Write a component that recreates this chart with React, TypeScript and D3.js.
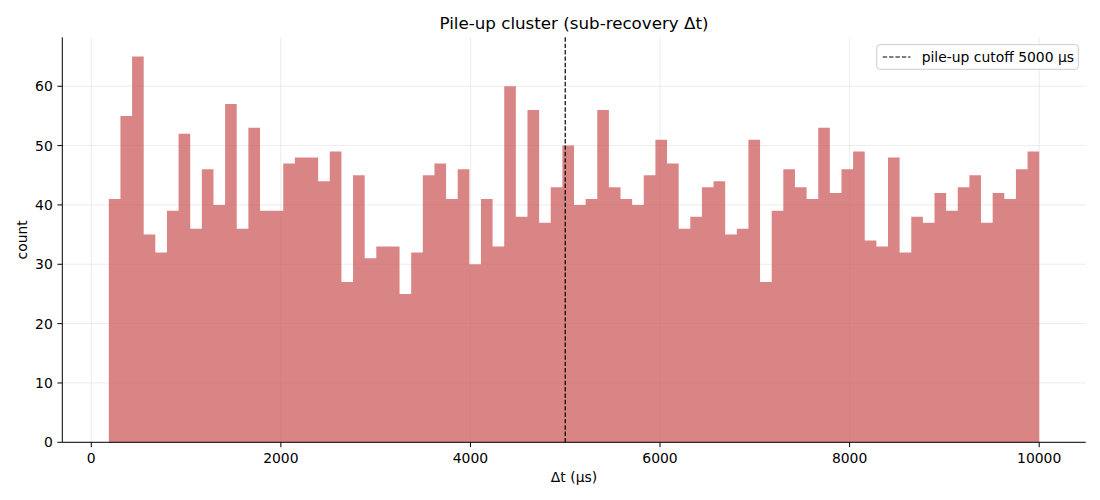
import React, { useEffect } from "react";
import * as d3 from "d3";

const binStart = 185;
const binEnd = 10000;
const counts = [
  41, 55, 65, 35, 32, 39, 52, 36, 46, 40,
  57, 36, 53, 39, 39, 47, 48, 48, 44, 49,
  27, 45, 31, 33, 33, 25, 32, 45, 47, 41,
  46, 30, 41, 33, 60, 38, 56, 37, 43, 50,
  40, 41, 56, 43, 41, 40, 45, 51, 47, 36,
  38, 43, 44, 35, 36, 51, 27, 39, 46, 43,
  41, 53, 42, 46, 49, 34, 33, 48, 32, 38,
  37, 42, 39, 43, 45, 37, 42, 41, 46, 49,
];
const xTicks = [0, 2000, 4000, 6000, 8000, 10000];
const yTicks = [0, 10, 20, 30, 40, 50, 60];
const cutoff = 5000;
const title = "Pile-up cluster (sub-recovery Δt)";
const xLabel = "Δt (µs)";
const yLabel = "count";
const legendLabel = "pile-up cutoff 5000 µs";

const W = 1100;
const H = 500;
const M = { left: 62.3, right: 1085.7, top: 37.3, bottom: 442.3 };
const font = "DejaVu Sans, sans-serif";

export default function App() {
  useEffect(() => {
    document.body.style.margin = "0";
  }, []);

  const binW = (binEnd - binStart) / counts.length;
  const span = binEnd - binStart;
  const x = d3
    .scaleLinear()
    .domain([binStart - 0.05 * span, binEnd + 0.05 * span])
    .range([M.left, M.right]);
  const yMax = (d3.max(counts) as number) * 1.05;
  const y = d3.scaleLinear().domain([0, yMax]).range([M.bottom, M.top]);

  const bins = counts.map((c, i) => ({
    x0: binStart + i * binW,
    x1: binStart + (i + 1) * binW,
    c,
  }));

  // single outline path for all bars (no seams between adjacent bars)
  const p = d3.path();
  p.moveTo(x(bins[0].x0), y(0));
  bins.forEach((b) => {
    p.lineTo(x(b.x0), y(b.c));
    p.lineTo(x(b.x1), y(b.c));
  });
  p.lineTo(x(bins[bins.length - 1].x1), y(0));
  p.closePath();

  return (
    <svg width={W} height={H} style={{ display: "block" }} fontFamily={font}>
      <rect x={0} y={0} width={W} height={H} fill="#fff" />
      {/* grid */}
      <g stroke="#b0b0b0" strokeOpacity={0.3} strokeWidth={0.8}>
        {xTicks.map((t) => (
          <line key={"gx" + t} x1={x(t)} x2={x(t)} y1={M.top} y2={M.bottom} />
        ))}
        {yTicks.map((t) => (
          <line key={"gy" + t} x1={M.left} x2={M.right} y1={y(t)} y2={y(t)} />
        ))}
      </g>
      {/* bars */}
      <path d={p.toString()} fill="indianred" fillOpacity={0.75} />
      {/* cutoff line */}
      <line
        x1={x(cutoff)}
        x2={x(cutoff)}
        y1={M.top}
        y2={M.bottom}
        stroke="#000"
        strokeWidth={1.2}
        strokeDasharray="4.44 1.92"
      />
      {/* axes */}
      <line x1={M.left} x2={M.left} y1={M.top} y2={M.bottom} stroke="#000" strokeWidth={1} />
      <line x1={M.left} x2={M.right} y1={M.bottom} y2={M.bottom} stroke="#000" strokeWidth={1} />
      {xTicks.map((t) => (
        <g key={"xt" + t}>
          <line x1={x(t)} x2={x(t)} y1={M.bottom} y2={M.bottom + 4.9} stroke="#000" strokeWidth={1} />
          <text x={x(t)} y={M.bottom + 20.5} textAnchor="middle" fontSize={13.9} fill="#000">
            {t}
          </text>
        </g>
      ))}
      {yTicks.map((t) => (
        <g key={"yt" + t}>
          <line x1={M.left - 4.9} x2={M.left} y1={y(t)} y2={y(t)} stroke="#000" strokeWidth={1} />
          <text x={M.left - 9.5} y={y(t) + 5} textAnchor="end" fontSize={13.9} fill="#000">
            {t}
          </text>
        </g>
      ))}
      {/* labels */}
      <text x={(M.left + M.right) / 2} y={482} textAnchor="middle" fontSize={13.9} fill="#000">
        {xLabel}
      </text>
      <text
        transform={`translate(27,${(M.top + M.bottom) / 2}) rotate(-90)`}
        textAnchor="middle"
        fontSize={13.9}
        fill="#000"
      >
        {yLabel}
      </text>
      <text x={(M.left + M.right) / 2} y={29} textAnchor="middle" fontSize={16.7} fill="#000">
        {title}
      </text>
      {/* legend */}
      <g>
        <rect
          x={876.7}
          y={44.7}
          width={201.6}
          height={24.6}
          rx={3}
          fill="#fff"
          fillOpacity={0.8}
          stroke="#cccccc"
          strokeWidth={1}
        />
        <line
          x1={882.7}
          x2={910.5}
          y1={57}
          y2={57}
          stroke="#000"
          strokeWidth={1.2}
          strokeDasharray="4.44 1.92"
        />
        <text x={921.7} y={62} fontSize={13.9} fill="#000">
          {legendLabel}
        </text>
      </g>
    </svg>
  );
}
